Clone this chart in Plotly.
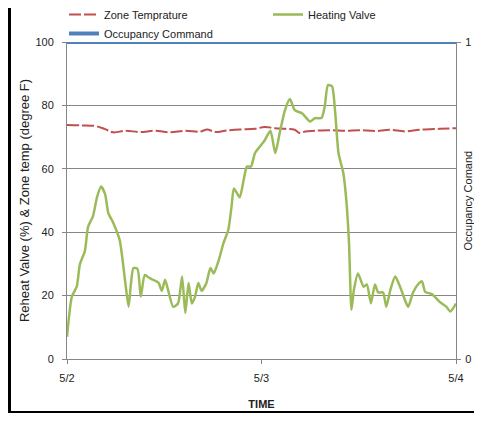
import plotly.graph_objects as go

# time in hours from 5/2 00:00
valve_hours = [0.0, 0.6, 1.2, 1.6, 2.2, 2.6, 3.2, 3.7, 4.2, 4.7, 5.1, 5.7, 6.5, 7.2, 7.6, 7.9,
               8.2, 8.7, 9.1, 9.6, 10.2, 10.6, 11.3, 11.7, 12.1, 12.5, 13.1, 13.7, 14.2, 14.6,
               15.0, 15.4, 15.8, 16.2, 16.6, 17.2, 17.7, 18.1, 18.7, 19.3, 19.9, 20.3, 20.6,
               21.3, 21.8, 22.2, 22.7, 23.2, 23.8, 24.4, 25.1, 25.7, 26.3, 26.9, 27.5, 28.1,
               29.0, 30.0, 30.6, 31.4, 31.8, 32.2, 32.7, 33.1, 33.5, 34.1, 34.5, 34.8, 35.1,
               35.4, 35.9, 36.6, 37.0, 37.5, 38.0, 38.4, 39.0, 39.4, 39.9, 40.5, 41.1, 41.7,
               42.1, 42.7, 43.3, 43.8, 44.2, 45.0, 46.0, 46.8, 47.3, 48.0]
valve_pct = [7, 19.7, 22.8, 30, 34, 41.7, 45, 51, 54.4, 52, 46, 43, 37.5, 24, 16.5, 24,
             28.7, 28.4, 19.7, 26.5, 25.5, 25, 24, 21.5, 25, 21.5, 16.5, 17.5, 26, 14.5,
             24, 17.5, 19.7, 24, 21.5, 24, 28.7, 27, 31, 36.5, 40.7, 48, 53.8,
             51, 56.5, 60.7, 60.7, 65, 67, 69, 72, 65, 72, 78.5, 82, 78.5,
             77.5, 74.9, 76, 76, 79.6, 86.4, 86, 77.5, 65, 58.6, 49, 36.5, 15.5,
             21.8, 27, 22.8, 23.5, 17.6, 23.5, 21, 21, 16.5, 21.8, 26, 22.8, 18.6,
             16.5, 21, 23.5, 24.5, 21.2, 20.5, 18, 16.5, 15, 17.5]

temp_hours = [0, 1.6, 3.5, 4.7, 5.7, 7.2, 9.0, 10.9, 12.7, 14.6, 16.4, 17.3, 18.3, 19.5,
              21.3, 23.2, 24.4, 25.7, 26.9, 28.1, 28.7, 29.4, 30.6, 32.4, 34.3, 36.1,
              38.0, 39.8, 41.7, 43.5, 46.0, 48.0]
temp_f = [73.8, 73.7, 73.5, 72.5, 71.5, 72, 71.6, 72, 71.5, 72, 71.7, 72.4, 71.6, 72,
          72.4, 72.6, 73.2, 72.8, 72.6, 72.3, 71.3, 71.8, 72, 72.2, 72, 72.2,
          71.9, 72.3, 71.8, 72.3, 72.6, 72.8]

occ_hours = [0, 48]
occ_cmd = [1, 1]

tick_hours = [0, 24, 48]
tick_labels = ["5/2", "5/3", "5/4"]

fig = go.Figure()
fig.add_trace(go.Scatter(x=temp_hours, y=temp_f, name="Zone Temprature", mode="lines",
                         legend="legend",
                         line=dict(color="#c0504d", width=2, dash="12px,3px", shape="spline")))
fig.add_trace(go.Scatter(x=valve_hours, y=valve_pct, name="Heating Valve", mode="lines",
                         legend="legend2",
                         line=dict(color="#9bbb59", width=2.5, shape="spline", smoothing=0.6)))
fig.add_trace(go.Scatter(x=occ_hours, y=occ_cmd, name="Occupancy Command", mode="lines",
                         legend="legend", yaxis="y2", line=dict(color="#4f81bd", width=4)))

grey = "#868686"
font = "Liberation Sans, Arial, sans-serif"

# the page puts the figure 8px in from each edge, so keep it inside the window
OFF = 8
W, H = 482 - 2 * OFF, 421 - 2 * OFF
L, T = 67 - OFF, 42 - OFF
R = W - L - 389
B = H - T - 317

# page pixels -> paper coordinates
def px_x(p):
    return (p - OFF - L) / (W - L - R)

def px_y(p):
    return (H - B - (p - OFF)) / (H - T - B)

shapes = [
    dict(type="rect", xref="paper", yref="paper", x0=px_x(8), x1=px_x(11), y0=px_y(413), y1=px_y(8),
         fillcolor="black", line_width=0, layer="above"),
    dict(type="rect", xref="paper", yref="paper", x0=px_x(8), x1=px_x(474), y0=px_y(413), y1=px_y(411),
         fillcolor="black", line_width=0, layer="above"),
]

legend_style = dict(xanchor="left", yanchor="top", bgcolor="rgba(0,0,0,0)",
                    font=dict(size=11, color="#222"), itemwidth=30, tracegroupgap=0,
                    borderwidth=0)

fig.update_layout(
    width=W, height=H,
    margin=dict(l=L, r=R, t=T, b=B, autoexpand=False),
    paper_bgcolor="white", plot_bgcolor="white",
    font=dict(family=font, size=11, color="#222"),
    showlegend=True,
    legend=dict(x=px_x(64), y=px_y(0), **legend_style),
    legend2=dict(x=px_x(268), y=px_y(0), **legend_style),
    xaxis=dict(range=[0, 48], tickvals=tick_hours, ticktext=tick_labels, showgrid=False,
               showline=True, linecolor=grey, ticks="outside", tickcolor=grey, ticklen=4,
               ticklabelstandoff=5, zeroline=False, automargin=False,
               title=dict(text="<b>TIME</b>", standoff=17, font=dict(size=11))),
    yaxis=dict(range=[0, 100], dtick=20, showgrid=True, gridcolor=grey, gridwidth=1,
               showline=True, linecolor=grey, ticks="outside", tickcolor=grey, ticklen=4,
               ticklabelstandoff=6, zeroline=False, automargin=False,
               title=dict(text="Reheat Valve (%) & Zone temp (degree F)", standoff=2)),
    yaxis2=dict(range=[0, 1], tickvals=[0, 1], overlaying="y", side="right", showgrid=False,
                showline=True, linecolor=grey, ticks="outside", tickcolor=grey, ticklen=4,
                ticklabelstandoff=2, zeroline=False, automargin=False),
    annotations=[dict(text="Occupancy Comand", xref="paper", yref="paper", x=px_x(467),
                      y=0.5, textangle=-90, showarrow=False, xanchor="center", yanchor="middle",
                      font=dict(size=11, color="#222"))],
    shapes=shapes,
)

fig.write_html("out.html")
